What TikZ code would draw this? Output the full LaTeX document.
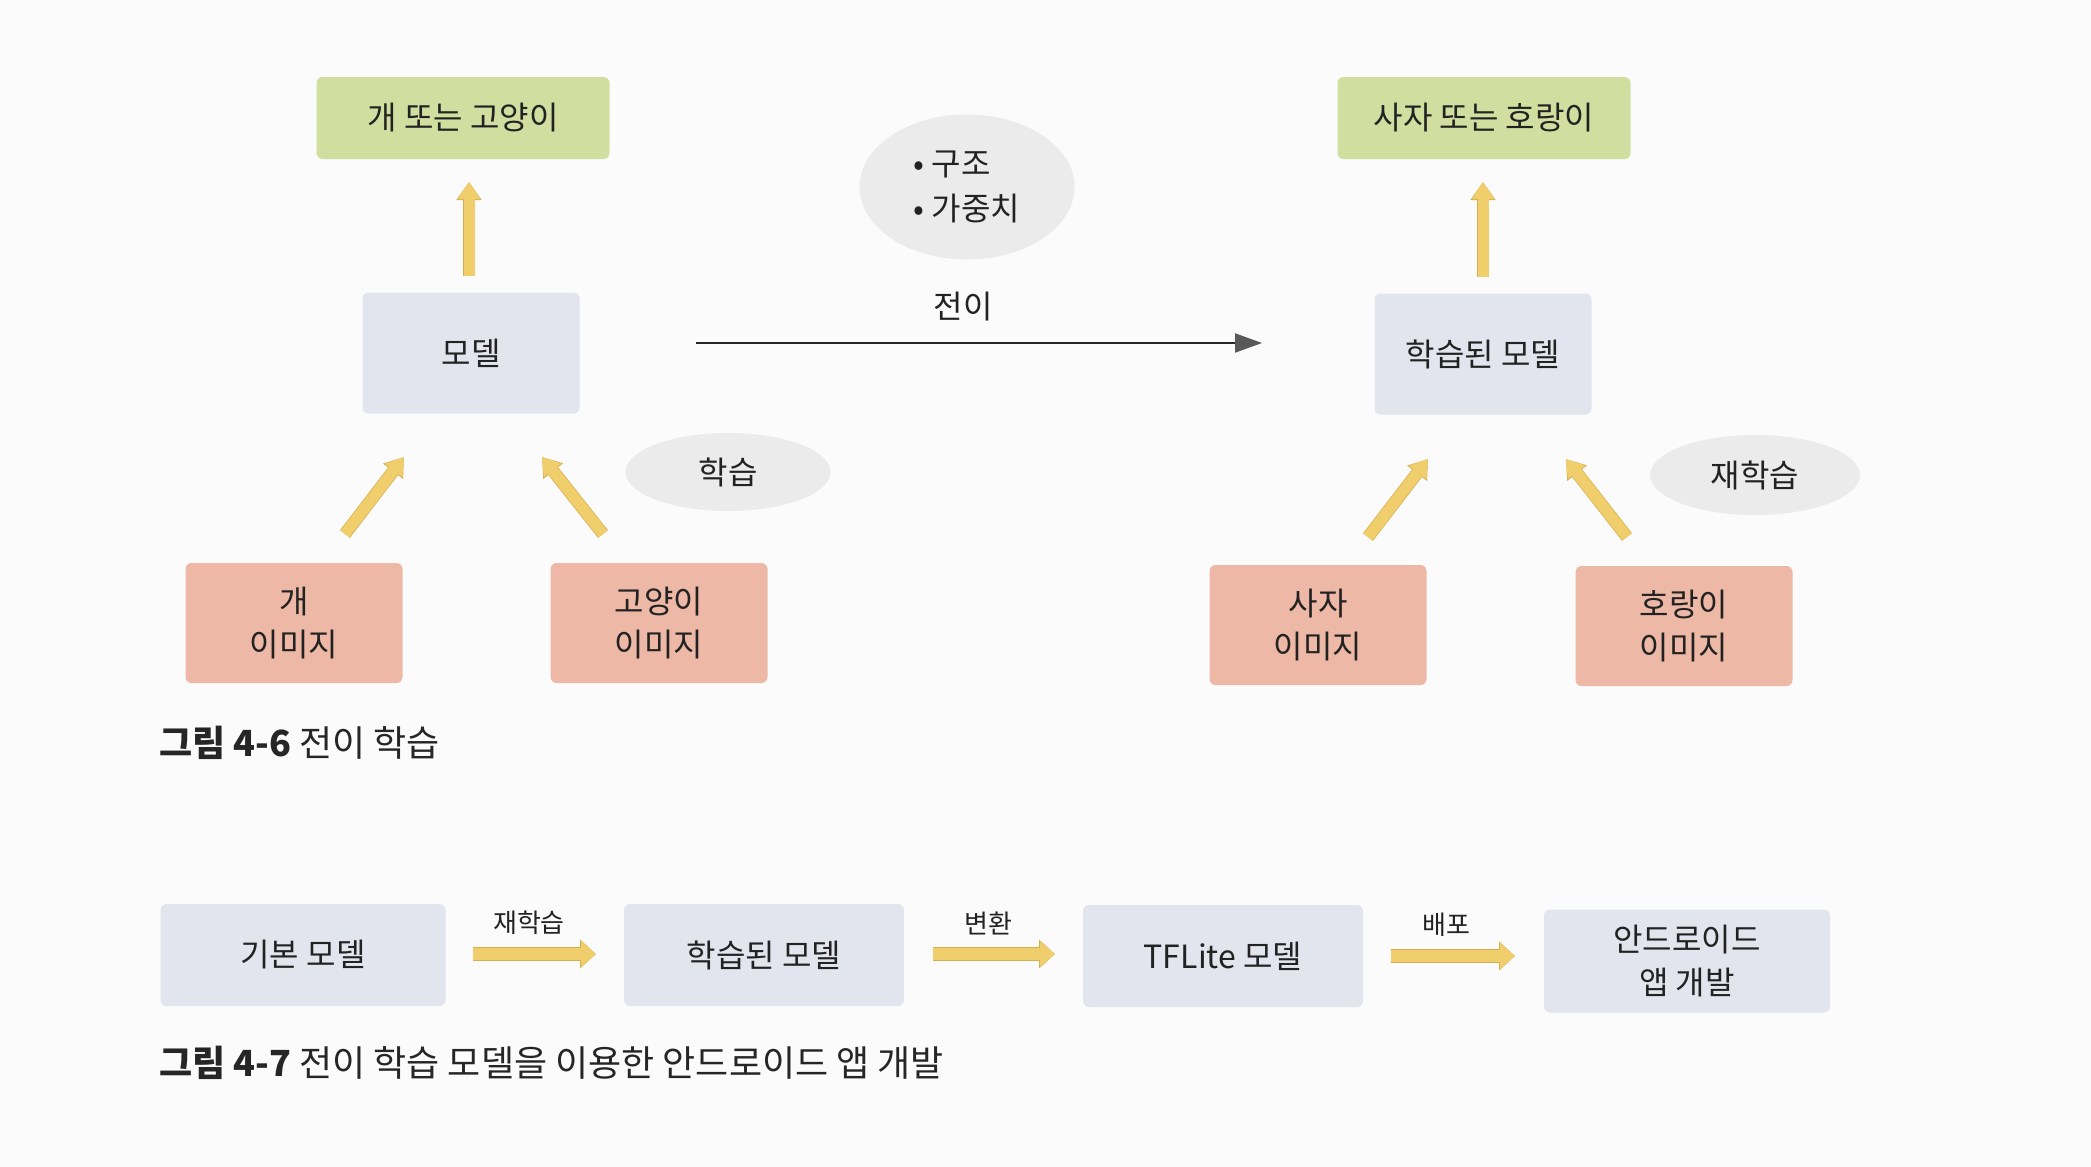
\documentclass[tikz,border=0pt]{standalone}
\usepackage{fontspec}
\setmainfont{Noto Sans CJK KR}
\usetikzlibrary{shapes.geometric,arrows.meta}
\definecolor{gfill}{HTML}{D2DEA0}
\definecolor{bfill}{HTML}{E3E5EE}
\definecolor{pfill}{HTML}{EEB8A6}
\definecolor{efill}{HTML}{EBEBEC}
\definecolor{yfill}{HTML}{F0CE6C}
\definecolor{ydark}{HTML}{D6B04C}
\definecolor{txt}{HTML}{222222}
\definecolor{bg}{HTML}{FBFBFB}
\tikzset{
  boxbase/.style={rounded corners=6pt, inner sep=0pt, align=center, text=txt,
    font=\fontsize{32}{43}\selectfont},
  gbox/.style={boxbase, fill=gfill, minimum width=293pt, minimum height=82pt},
  bbox/.style={boxbase, fill=bfill, minimum width=217pt, minimum height=121pt},
  pbox/.style={boxbase, fill=pfill, minimum width=217pt, minimum height=120pt},
  rbox/.style={boxbase, fill=bfill, minimum width=282pt, minimum height=102pt},
  ovalnode/.style={ellipse, fill=efill, inner sep=0pt, text=txt, align=left,
    font=\fontsize{32}{45}\selectfont},
  yarr/.style={draw=yfill, line width=11pt,
    -{Triangle[length=17pt, width=21pt, fill=yfill, color=yfill]},
    preaction={draw=ydark, line width=12.5pt, -{Triangle[length=18pt, width=24pt, color=ydark]}}},
  harr/.style={draw=yfill, line width=12pt,
    -{Triangle[length=15pt, width=25pt, color=yfill]},
    preaction={draw=ydark, line width=13.5pt, -{Triangle[length=16pt, width=28pt, color=ydark]}}},
  karr/.style={draw=black!85, line width=2pt,
    -{Triangle[length=27pt, width=19pt, fill=black!65, color=black!65]}},
  lbl/.style={text=txt, inner sep=0pt, font=\fontsize{32}{40}\selectfont},
  slbl/.style={text=txt, inner sep=0pt, font=\fontsize{26}{30}\selectfont},
  captxt/.style={text=black!85, inner sep=0pt, anchor=west, font=\fontsize{36}{40}\selectfont},
}
\begin{document}
\begin{tikzpicture}[x=1pt,y=-1pt]
\useasboundingbox (0,0) rectangle (2091,1167);
\fill[bg] (0,0) rectangle (2091,1167);

% Figure 4-6
\node[gbox] (out1) at (463,118) {개 또는 고양이};
\node[gbox] (out2) at (1484,118) {사자 또는 호랑이};
\node[ovalnode, minimum width=215pt, minimum height=145pt] (info) at (967,187) {• 구조\\• 가중치};
\node[bbox] (model) at (471,353) {모델};
\node[bbox] (tmodel) at (1483,354) {학습된 모델};
\node[lbl] (transfer) at (963,307) {전이};
\node[ovalnode, minimum width=205pt, minimum height=78pt] (learn) at (728,472) {학습};
\node[ovalnode, minimum width=210pt, minimum height=80pt] (relearn) at (1755,475) {재학습};
\node[pbox] (dog) at (294,623) {개\\이미지};
\node[pbox] (cat) at (659,623) {고양이\\이미지};
\node[pbox] (lion) at (1318,625) {사자\\이미지};
\node[pbox] (tiger) at (1684,626) {호랑이\\이미지};

\coordinate (m1s) at (469,276); \coordinate (m1e) at (469,182);
\coordinate (m2s) at (1483,277); \coordinate (m2e) at (1483,182);
\coordinate (d1s) at (345,534); \coordinate (d1e) at (404,457);
\coordinate (c1s) at (603,534); \coordinate (c1e) at (542,457);
\coordinate (l1s) at (1368,537); \coordinate (l1e) at (1428,459);
\coordinate (t1s) at (1627,537); \coordinate (t1e) at (1566,459);
\coordinate (ks) at (696,343); \coordinate (ke) at (1262,343);

\draw[yarr] (m1s) -- (m1e);
\draw[yarr] (m2s) -- (m2e);
\draw[yarr] (d1s) -- (d1e);
\draw[yarr] (c1s) -- (c1e);
\draw[yarr] (l1s) -- (l1e);
\draw[yarr] (t1s) -- (t1e);
\draw[karr] (ks) -- (ke);

\node[captxt] (cap1) at (159,743) {\textbf{그림 4-6} 전이 학습};

% Figure 4-7
\node[rbox, minimum width=285pt] (basem) at (303,955) {기본 모델};
\node[rbox, minimum width=280pt] (tm2) at (764,955) {학습된 모델};
\node[rbox, minimum width=280pt] (tfl) at (1223,956) {TFLite 모델};
\node[rbox, minimum width=286pt, minimum height=103pt] (app) at (1687,961) {안드로이드\\앱 개발};

\coordinate (h1s) at (473,954); \coordinate (h1e) at (596,954);
\coordinate (h2s) at (933,954); \coordinate (h2e) at (1055,954);
\coordinate (h3s) at (1391,956); \coordinate (h3e) at (1515,956);
\draw[harr] (h1s) -- (h1e);
\draw[harr] (h2s) -- (h2e);
\draw[harr] (h3s) -- (h3e);
\node[slbl] (l1) at (529,923) {재학습};
\node[slbl] (l2) at (988,923) {변환};
\node[slbl] (l3) at (1446,925) {배포};

\node[captxt] (cap2) at (159,1063) {\textbf{그림 4-7} 전이 학습 모델을 이용한 안드로이드 앱 개발};
\end{tikzpicture}
\end{document}
